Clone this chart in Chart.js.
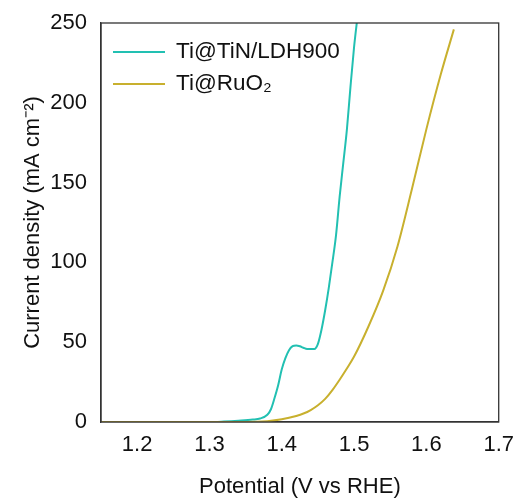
<!DOCTYPE html>
<html>
<head>
<meta charset="utf-8">
<script src="https://cdn.jsdelivr.net/npm/chart.js@4/dist/chart.umd.min.js"></script>
<style>
  html, body { margin: 0; padding: 0; background: #fff; }
  #wrap { width: 519px; height: 500px; }
</style>
</head>
<body>
<div id="wrap"><canvas id="lsv"></canvas></div>
<script>
// Ti@TiN/LDH900
var tinPotential = [1.15, 1.30, 1.32, 1.34, 1.36, 1.37, 1.38, 1.385, 1.39, 1.395, 1.40, 1.405, 1.41, 1.415, 1.42, 1.425, 1.43, 1.435, 1.445, 1.45, 1.455, 1.46, 1.465, 1.47, 1.475, 1.48, 1.485, 1.49, 1.495, 1.50, 1.505];
var tinCurrent   = [0, 0, 0.3, 0.8, 1.5, 2.2, 4.5, 8, 15, 23, 33, 40, 45, 47.5, 48, 47.5, 46.5, 45.8, 45.8, 49, 58, 70, 84, 100, 117, 141, 162, 183, 210, 235, 255];

// Ti@RuO2
var ruoPotential = [1.15, 1.35, 1.38, 1.40, 1.42, 1.43, 1.44, 1.45, 1.46, 1.47, 1.48, 1.49, 1.50, 1.52, 1.54, 1.56, 1.58, 1.60, 1.62, 1.638];
var ruoCurrent   = [0, 0, 0.5, 1.7, 3.8, 5.3, 7.5, 10.5, 14.5, 20, 26.5, 33.5, 41, 60, 82, 110, 146, 183.5, 218, 246];

var seriesNames = ["Ti@TiN/LDH900", "Ti@RuO\u2082"];
var xTicks = [1.2, 1.3, 1.4, 1.5, 1.6, 1.7];
var yTicks = [0, 50, 100, 150, 200, 250];

function toPoints(xs, ys) {
  return xs.map(function(x, i) { return { x: x, y: ys[i] }; });
}

var FONT = "'Liberation Sans', Arial, sans-serif";

// frame round the plot and the legend inside it
var framePlugin = {
  id: "frame",
  afterDraw: function(chart) {
    var c = chart.ctx, a = chart.chartArea;
    c.save();
    c.strokeStyle = "#333";
    c.lineWidth = 1.3;
    c.strokeRect(a.left, a.top, a.right - a.left, a.bottom - a.top);

    c.font = "22.5px " + FONT;
    c.textBaseline = "middle";
    chart.data.datasets.forEach(function(ds, i) {
      var y = a.top + 29 + i * 32;
      c.strokeStyle = ds.borderColor;
      c.lineWidth = 2;
      c.beginPath();
      c.moveTo(a.left + 12, y);
      c.lineTo(a.left + 64, y);
      c.stroke();
      c.fillStyle = "#111";
      c.fillText(ds.label, a.left + 75, y);
    });
    c.restore();
  }
};

var chart = new Chart(document.getElementById("lsv"), {
  type: "line",
  data: {
    datasets: [
      {
        label: seriesNames[0],
        data: toPoints(tinPotential, tinCurrent),
        borderColor: "#22c0b2",
        borderWidth: 2,
        pointRadius: 0,
        fill: false,
        cubicInterpolationMode: "monotone",
        order: 1
      },
      {
        label: seriesNames[1],
        data: toPoints(ruoPotential, ruoCurrent),
        borderColor: "#c8b02e",
        borderWidth: 2,
        pointRadius: 0,
        fill: false,
        cubicInterpolationMode: "monotone",
        order: 0
      }
    ]
  },
  options: {
    responsive: true,
    maintainAspectRatio: false,
    animation: false,
    layout: { padding: { top: 23, right: 19, left: 0, bottom: 0 } },
    plugins: {
      legend: { display: false },
      tooltip: { enabled: false }
    },
    scales: {
      x: {
        type: "linear",
        min: 1.15,
        max: 1.7,
        afterBuildTicks: function(s) { s.ticks = xTicks.map(function(v) { return { value: v }; }); },
        afterFit: function(s) { s.height = 78; },
        grid: { display: false, drawOnChartArea: false, drawTicks: true, tickLength: 5, tickColor: "#333" },
        border: { display: true, color: "#333", width: 1.3 },
        ticks: {
          color: "#111",
          font: { family: FONT, size: 22 },
          padding: 5,
          maxRotation: 0,
          callback: function(v) { return v.toFixed(1); }
        },
        title: {
          display: true,
          text: "Potential (V vs RHE)",
          color: "#111",
          font: { family: FONT, size: 22 },
          padding: { top: 0, bottom: 0 }
        }
      },
      y: {
        min: 0,
        max: 250,
        afterBuildTicks: function(s) { s.ticks = yTicks.map(function(v) { return { value: v }; }); },
        afterFit: function(s) { s.width = 101; },
        grid: { display: false, drawOnChartArea: false, drawTicks: true, tickLength: 5, tickColor: "#333" },
        border: { display: true, color: "#333", width: 1.3 },
        ticks: {
          color: "#111",
          font: { family: FONT, size: 22 },
          padding: 9
        },
        title: {
          display: true,
          text: "Current density (mA cm\u207B\u00B2)",
          color: "#111",
          font: { family: FONT, size: 22 },
          padding: { top: 20, bottom: 0 }
        }
      }
    }
  },
  plugins: [framePlugin]
});
</script>
</body>
</html>
